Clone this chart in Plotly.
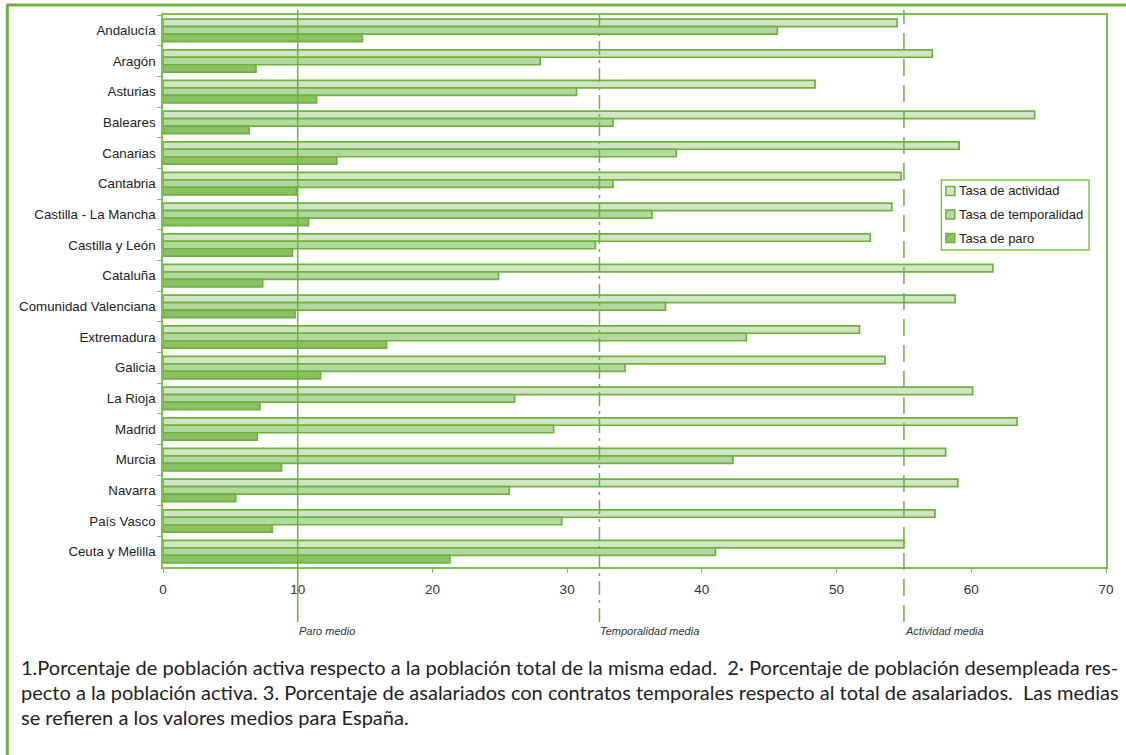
import plotly.graph_objects as go

# Comunidades autónomas (top to bottom)
regiones = [
    "Andalucía", "Aragón", "Asturias", "Baleares", "Canarias", "Cantabria",
    "Castilla - La Mancha", "Castilla y León", "Cataluña", "Comunidad Valenciana",
    "Extremadura", "Galicia", "La Rioja", "Madrid", "Murcia", "Navarra",
    "País Vasco", "Ceuta y Melilla",
]
tasa_actividad = [54.5, 57.1, 48.4, 64.7, 59.1, 54.8, 54.1, 52.5, 61.6, 58.8,
                  51.7, 53.6, 60.1, 63.4, 58.1, 59.0, 57.3, 55.0]
tasa_temporalidad = [45.6, 28.0, 30.7, 33.4, 38.1, 33.4, 36.3, 32.1, 24.9, 37.3,
                     43.3, 34.3, 26.1, 29.0, 42.3, 25.7, 29.6, 41.0]
tasa_paro = [14.8, 6.9, 11.4, 6.4, 12.9, 9.9, 10.8, 9.6, 7.4, 9.8,
             16.6, 11.7, 7.2, 7.0, 8.8, 5.4, 8.1, 21.3]

# Spanish averages
media_paro = 10.0
media_temporalidad = 32.4
media_actividad = 55.0

ticks_x = [0, 10, 20, 30, 40, 50, 60, 70]

nota = [
    "1.Porcentaje de población activa respecto a la población total de la misma edad.  2· Porcentaje de población desempleada res-",
    "pecto a la población activa. 3. Porcentaje de asalariados con contratos temporales respecto al total de asalariados.  Las medias",
    "se refieren a los valores medios para España.",
]

# Page geometry (pixels)
W, H = 1126, 755
L, R, T, B = 163, 18, 15, 188
PW, PH = W - L - R, H - T - B


def px(x):
    return (x - L) / PW


def py(y):
    return (H - B - y) / PH


VERDE = "#6cb33e"
VERDE_CLARO = "#7cc24e"
TEXTO = "#222222"
FUENTE = "Liberation Sans, Arial"

series = [
    ("Tasa de actividad", tasa_actividad, "#d1e5c4"),
    ("Tasa de temporalidad", tasa_temporalidad, "#b4d69f"),
    ("Tasa de paro", tasa_paro, "#8cc163"),
]

fig = go.Figure()
for nombre, valores, color in series:
    fig.add_trace(go.Bar(
        y=regiones, x=valores, name=nombre, orientation="h",
        marker=dict(color=color, line=dict(color=VERDE, width=1.7)),
        hoverinfo="x+name", showlegend=False,
    ))

shapes = []
annotations = []

# Mean reference lines with their labels below the axis
medias = [
    (media_paro, "solid", "Paro medio"),
    (media_temporalidad, "14px,5px,3px,5px", "Temporalidad media"),
    (media_actividad, "17px,9px", "Actividad media"),
]
for valor, estilo, texto in medias:
    shapes.append(dict(type="line", xref="x", yref="paper",
                       x0=valor, x1=valor, y0=py(622), y1=py(10),
                       line=dict(color=VERDE, width=1.5, dash=estilo)))
    annotations.append(dict(x=valor, xref="x", y=py(631), yref="paper",
                            text=texto, showarrow=False, xanchor="left",
                            yanchor="middle", xshift=-1,
                            font=dict(family=FUENTE, size=11,
                                      color="#333333", style="italic")))

# Legend box
shapes.append(dict(type="rect", xref="paper", yref="paper",
                   x0=px(943), x1=px(1091), y0=py(250), y1=py(180),
                   fillcolor="white", line=dict(color=VERDE_CLARO, width=1.5),
                   layer="above"))
for i, (nombre, _, color) in enumerate(series):
    yc = 191 + 23.5 * i
    shapes.append(dict(type="rect", xref="paper", yref="paper",
                       x0=px(947.5), x1=px(956.5), y0=py(yc + 4.5), y1=py(yc - 4.5),
                       fillcolor=color, line=dict(color=VERDE, width=1.5),
                       layer="above"))
    annotations.append(dict(x=px(959), xref="paper", y=py(yc), yref="paper",
                            text=nombre, showarrow=False, xanchor="left",
                            yanchor="middle",
                            font=dict(family=FUENTE, size=13, color=TEXTO)))

# Outer frame (left and top edges)
shapes.append(dict(type="line", xref="paper", yref="paper",
                   x0=px(7), x1=px(7), y0=py(5), y1=py(760),
                   line=dict(color=VERDE, width=3)))
shapes.append(dict(type="line", xref="paper", yref="paper",
                   x0=px(6), x1=px(1130), y0=py(5), y1=py(5),
                   line=dict(color=VERDE, width=3)))

# Footnote
for i, linea in enumerate(nota):
    annotations.append(dict(x=px(19), xref="paper", y=py(667 + 25 * i), yref="paper",
                            text=linea, showarrow=False, xanchor="left",
                            yanchor="middle",
                            font=dict(family="Lato", size=20, color=TEXTO)))

fig.update_layout(
    width=W, height=H,
    margin=dict(l=L, r=R, t=T, b=B, pad=0),
    paper_bgcolor="white", plot_bgcolor="white",
    barmode="group", bargap=0.27, bargroupgap=0,
    font=dict(family=FUENTE, size=13, color=TEXTO),
    showlegend=False,
    shapes=shapes,
    annotations=annotations,
    xaxis=dict(range=[0, 70], tickvals=ticks_x, showgrid=False, zeroline=False,
               showline=True, linecolor=VERDE_CLARO, linewidth=1.5, mirror=True,
               ticks="outside", ticklen=4, tickcolor=VERDE_CLARO,
               ticklabelstandoff=5,
               tickfont=dict(size=13.5, color="#333333"), fixedrange=True),
    yaxis=dict(autorange="reversed", showgrid=False, zeroline=False,
               showline=True, linecolor=VERDE_CLARO, linewidth=1.5, mirror=True,
               ticks="outside", ticklen=4, tickcolor=VERDE_CLARO,
               tickson="boundaries", ticklabelstandoff=3,
               tickfont=dict(size=13.3, color=TEXTO), fixedrange=True),
)

fig.write_html("out.html")
